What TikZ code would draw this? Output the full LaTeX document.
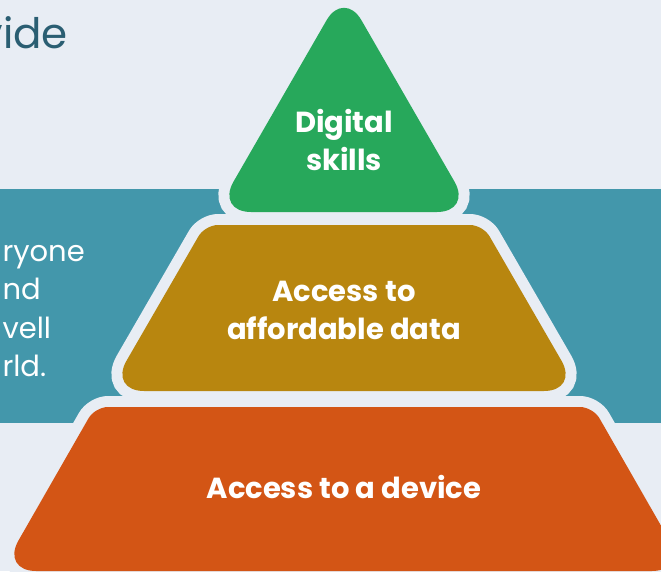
\documentclass[tikz,border=0pt]{standalone}
\usepackage{fontspec}
\setmainfont{Poppins}
\usepackage{tikz}
\usetikzlibrary{positioning}

\definecolor{bgcol}{HTML}{E8EDF4}
\definecolor{bandcol}{HTML}{4397AB}
\definecolor{titlecol}{HTML}{2A5E72}
\definecolor{skillcol}{HTML}{27A85B}
\definecolor{datacol}{HTML}{B8860F}
\definecolor{devicecol}{HTML}{D35515}

\begin{document}
\begin{tikzpicture}[x=1pt, y=-1pt,
  layer/.style={fill=#1, preaction={draw=bgcol, line width=22pt}},
  level text/.style={text=white, font=\fontsize{29}{38}\selectfont\bfseries, align=center},
  side text/.style={text=white, font=\fontsize{29}{38.5}\selectfont, align=left}]

\useasboundingbox (0,0) rectangle (661,571);
\clip (0,0) rectangle (661,571);
\fill[bgcol] (0,0) rectangle (661,571);

% teal band behind the pyramid
\fill[bandcol] (0,189) rectangle (661,423);

% pyramid levels, bottom first
\path[layer=devicecol] (344,571) [rounded corners=35pt] -- (1,571) [rounded corners=13pt]
  -- (95,407) -- (593,407) [rounded corners=35pt] -- (687,571) -- cycle;
\path[layer=datacol] (344,391) [rounded corners=35pt] -- (109,391) [rounded corners=13pt]
  -- (205,225) -- (483,225) [rounded corners=35pt] -- (579,391) -- cycle;
\path[layer=skillcol] (344,212) [rounded corners=35pt] -- (216,212) -- (344,-10)
  -- (472,212) -- cycle;

\node[level text] (skills) at (344,140) {Digital\\skills};
\node[level text] (data) at (344,310) {Access to\\affordable data};
\node[level text] (device) at (344,487) {Access to a device};

\node[side text, anchor=west] (mission) at (-1,311) {ryone\\nd\\vell\\rld.};
\node[text=titlecol, font=\fontsize{42}{50}\selectfont, anchor=base east, inner sep=0pt] (title) at (68,48) {vide};

\end{tikzpicture}
\end{document}
